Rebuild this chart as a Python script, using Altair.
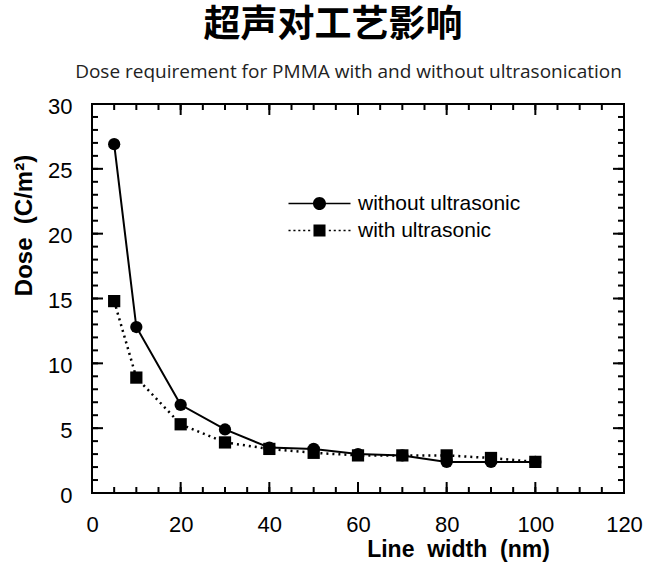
import altair as alt
import pandas as pd

# ---- data ----
line_width = [5, 10, 20, 30, 40, 50, 60, 70, 80, 90, 100]
dose_without = [26.9, 12.8, 6.8, 4.9, 3.5, 3.4, 3.0, 2.9, 2.4, 2.4, 2.4]
dose_with = [14.8, 8.9, 5.3, 3.9, 3.4, 3.1, 2.9, 2.9, 2.9, 2.7, 2.4]
series_names = ["without ultrasonic", "with ultrasonic"]

x_ticks_major = [0, 20, 40, 60, 80, 100, 120]
x_ticks_minor = list(range(0, 121, 5))
y_ticks_major = [0, 5, 10, 15, 20, 25, 30]
y_ticks_minor = list(range(0, 31, 1))

heading = "超声对工艺影响"
subheading = "Dose requirement for PMMA with and without ultrasonication"

df = pd.DataFrame({
    "x": line_width + line_width,
    "y": dose_without + dose_with,
    "series": [series_names[0]] * len(line_width) + [series_names[1]] * len(line_width),
})
df_without = df[df["series"] == series_names[0]]
df_with = df[df["series"] == series_names[1]]

W, H = 532, 389
MINOR, MAJOR = 6, 11
xs = alt.Scale(domain=[0, 120], nice=False, zero=False)
ys = alt.Scale(domain=[0, 30], nice=False)
FONT = "Liberation Sans"
NB = "\u00a0"


def X(axis, field="x:Q"):
    return alt.X(field, scale=xs, axis=axis)


def Y(axis, field="y:Q"):
    return alt.Y(field, scale=ys, axis=axis)


# ---- inward frame ticks (placed by the shared scales) ----
tick_x = pd.DataFrame({
    "t": x_ticks_minor + x_ticks_major,
    "len": [MINOR] * len(x_ticks_minor) + [MAJOR] * len(x_ticks_major),
})
tick_y = pd.DataFrame({
    "t": y_ticks_minor + y_ticks_major,
    "len": [MINOR] * len(y_ticks_minor) + [MAJOR] * len(y_ticks_major),
})

tx = alt.Chart(tick_x).mark_tick(orient="vertical", thickness=2, color="black", opacity=1)
tick_len = alt.Size("len:Q", scale=None, legend=None)
tick_bottom = tx.transform_calculate(pc=f"{H} - datum.len / 2").encode(
    x=X(None, "t:Q"), y=alt.Y("pc:Q", scale=None, axis=None), size=tick_len)
tick_top = tx.transform_calculate(pc="datum.len / 2").encode(
    x=X(None, "t:Q"), y=alt.Y("pc:Q", scale=None, axis=None), size=tick_len)

ty = alt.Chart(tick_y).mark_line(color="black", strokeWidth=2, opacity=1)
tick_left = ty.transform_calculate(
    k="datum.t + '_' + datum.len", p0="0", p1="datum.len"
).transform_fold(["p0", "p1"], as_=["end", "px"]).encode(
    y=Y(None, "t:Q"), x=alt.X("px:Q", scale=None, axis=None), detail="k:N")
tick_right = ty.transform_calculate(
    k="datum.t + '_' + datum.len", p0=f"{W}", p1=f"{W} - datum.len"
).transform_fold(["p0", "p1"], as_=["end", "px"]).encode(
    y=Y(None, "t:Q"), x=alt.X("px:Q", scale=None, axis=None), detail="k:N")

labels_layer = alt.Chart(df).mark_point(opacity=0).encode(
    x=X(alt.Axis(orient="bottom", values=x_ticks_major, ticks=False, tickSize=0,
                 domain=False, grid=False, labelFont=FONT, labelFontSize=22,
                 labelColor="black", labelPadding=21, labelFlush=False,
                 title=f"Line{NB} width{NB} (nm)", titleFont=FONT, titleFontSize=23,
                 titleFontWeight="bold", titleColor="black", titleX=366, titleY=56,
                 titleAlign="center", titleBaseline="middle")),
    y=Y(alt.Axis(orient="left", values=y_ticks_major, ticks=False, tickSize=0,
                 domain=False, grid=False, labelFont=FONT, labelFontSize=22,
                 labelColor="black", labelPadding=20, labelFlush=False, labelOffset=2,
                 title=f"Dose{NB} (C/m²)", titleFont=FONT, titleFontSize=24,
                 titleFontWeight="bold", titleColor="black", titleAngle=270,
                 titleX=-68, titleY=121, titleAlign="center", titleBaseline="middle")),
)

# the subtitle line, carried as the title of a label-less top axis
subtitle_layer = alt.Chart(df).mark_point(opacity=0).encode(
    x=X(alt.Axis(orient="top", values=x_ticks_major, ticks=False, labels=False,
                 domain=False, grid=False, title=subheading, titleFont="Open Sans",
                 titleFontSize=19, titleFontWeight="normal", titleColor="#222222",
                 titleX=256, titleY=-33, titleAlign="center", titleBaseline="middle")),
    y=Y(None),
)

solid_line = alt.Chart(df_without).mark_line(color="black", strokeWidth=2).encode(
    x=X(None), y=Y(None))
dotted_line = alt.Chart(df_with).mark_line(color="black", strokeWidth=2.5,
                                           strokeDash=[2, 4]).encode(x=X(None), y=Y(None))
circles = alt.Chart(df_without).mark_point(shape="circle", filled=True, color="black",
                                           size=150, opacity=1).encode(x=X(None), y=Y(None))
squares = alt.Chart(df_with).mark_point(shape="square", filled=True, color="black",
                                        size=150, opacity=1).encode(x=X(None), y=Y(None))


# legend glyphs: line segment + marker, drawn as filled path pieces
def seg(a, b, t=0.1):
    return f"M{a:.2f},{-t}H{b:.2f}V{t}H{a:.2f}Z"


circle_sym = (seg(-4.43, 4.43, 0.11)
              + "M-0.93,0A0.93,0.93,0,1,1,0.93,0A0.93,0.93,0,1,1,-0.93,0Z")
dots = []
start = -4.43
while start < -1.0:
    dots.append(seg(start, start + 0.3))
    dots.append(seg(-start - 0.3, -start))
    start += 0.7
square_sym = "".join(dots) + "M-0.86,-0.86H0.86V0.86H-0.86Z"

legend_props = dict(orient="none", legendX=217, legendY=89, title=None,
                    symbolSize=196, symbolStrokeWidth=0, symbolFillColor="black",
                    symbolStrokeColor="black", symbolOpacity=1,
                    labelFont=FONT, labelFontSize=21, labelColor="black", labelLimit=400,
                    labelOffset=28, padding=0, rowPadding=5)

legend_layer = alt.Chart(df).mark_point(opacity=0, filled=True, color="black").encode(
    x=X(None), y=Y(None),
    shape=alt.Shape("series:N", scale=alt.Scale(domain=series_names,
                                                range=[circle_sym, square_sym]),
                    legend=alt.Legend(**legend_props)),
)

chart = alt.layer(
    labels_layer, subtitle_layer, legend_layer,
    tick_bottom, tick_top, tick_left, tick_right,
    solid_line, dotted_line, circles, squares,
).resolve_axis(
    x="independent", y="independent"
).properties(
    width=W, height=H,
    autosize=alt.AutoSizeParams(type="none"),
    padding={"left": 92, "top": 104, "right": 646 - 92 - W, "bottom": 574 - 104 - H},
    background="white",
    title=alt.TitleParams(
        text=heading,
        font="Noto Sans CJK SC", fontSize=37, fontWeight="bold", color="black",
        anchor="middle", dx=-25, offset=17,
    ),
).configure_view(stroke="black", strokeWidth=2)

chart.save("out.html", embed_options={"renderer": "svg", "actions": False})
